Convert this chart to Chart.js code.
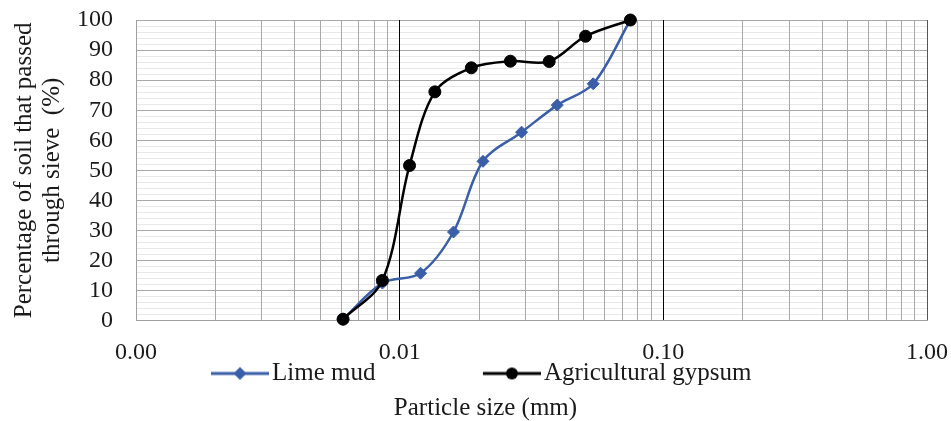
<!DOCTYPE html>
<html>
<head>
<meta charset="utf-8">
<title>Particle size distribution</title>
<script src="https://cdn.jsdelivr.net/npm/chart.js@4"></script>
<style>
  html, body { margin: 0; padding: 0; background: #ffffff; }
  #wrap { width: 951px; height: 421px; }
</style>
</head>
<body>
<div id="wrap"><canvas id="chart" width="951" height="421"></canvas></div>
<script>
// Grain-size curves (particle size in mm, percent passing)
const seriesNames = ['Lime mud', 'Agricultural gypsum'];

const limeMudSize    = [0.0061, 0.0086, 0.0120, 0.0160, 0.0207, 0.0290, 0.0396, 0.0542, 0.075];
const limeMudPassing = [0.5, 12.5, 15.8, 29.5, 53.0, 62.7, 71.7, 78.8, 100];

const gypsumSize     = [0.0061, 0.0086, 0.0109, 0.0136, 0.0187, 0.0263, 0.0369, 0.0507, 0.075];
const gypsumPassing  = [0.5, 13.4, 51.6, 76.1, 84.1, 86.3, 86.2, 94.6, 100];

// Axis labels
const xTickValues = [0.001, 0.01, 0.1, 1];
const xTickLabels = ['0.00', '0.01', '0.10', '1.00'];
const yTickValues = [0, 10, 20, 30, 40, 50, 60, 70, 80, 90, 100];
const yTickLabels = ['0', '10', '20', '30', '40', '50', '60', '70', '80', '90', '100'];
const yTitleLines = ['Percentage of soil that passed', 'through sieve  (%)'];
const xTitle = 'Particle size (mm)';

// Colours
const limeColor = '#3A5FA8';
const gypsumColor = '#000000';
const textColor = '#1a1a1a';
const FONT = "'Liberation Serif', 'Times New Roman', serif";

// Log grid: 1..9 within each decade, plus the closing 1.0 line
const gridMultipliers = [1, 2, 3, 4, 5, 6, 7, 8, 9];
const gridDecades = [0.001, 0.01, 0.1];
const xGridValues = [];
gridDecades.forEach(d => gridMultipliers.forEach(m => xGridValues.push(+(d * m).toPrecision(6))));
xGridValues.push(1);

const near = (a, b) => Math.abs(a - b) <= Math.abs(b) * 1e-6 + 1e-9;

// Legend symbol: short line with the series marker in the middle
const LEGEND_BOX = 156;
function legendSymbol(color, shape) {
  const c = document.createElement('canvas');
  c.width = LEGEND_BOX + 19;
  c.height = 16;
  const g = c.getContext('2d');
  const x2 = c.width, x1 = x2 - 58, cy = 8, cx = (x1 + x2) / 2;
  g.strokeStyle = color;
  g.lineWidth = 3;
  g.beginPath(); g.moveTo(x1, cy); g.lineTo(x2, cy); g.stroke();
  g.fillStyle = color;
  g.beginPath();
  if (shape === 'diamond') {
    g.moveTo(cx, cy - 6.5); g.lineTo(cx + 6.5, cy); g.lineTo(cx, cy + 6.5); g.lineTo(cx - 6.5, cy); g.closePath();
  } else {
    g.arc(cx, cy, 6, 0, Math.PI * 2);
  }
  g.fill();
  return c;
}
const legendSymbols = [legendSymbol(limeColor, 'diamond'), legendSymbol(gypsumColor, 'circle')];

// Horizontal nudges for the legend row and the bottom title
const boxShift = {
  id: 'boxShift',
  afterLayout(chart) {
    const move = (box, dx) => { if (box) { box.left += dx; box.right += dx; } };
    move(chart.legend, -38);
    move(chart.titleBlock, 20);
  }
};

const toPoints = (xs, ys) => xs.map((x, i) => ({ x, y: ys[i] }));

new Chart(document.getElementById('chart'), {
  type: 'line',
  data: {
    datasets: [
      {
        label: seriesNames[0],
        data: toPoints(limeMudSize, limeMudPassing),
        borderColor: limeColor,
        backgroundColor: limeColor,
        borderWidth: 2.5,
        pointStyle: 'rectRot',
        pointRadius: 6,
        pointBorderWidth: 1,
        pointBackgroundColor: limeColor,
        pointBorderColor: limeColor,
        tension: 0.33,
        clip: false,
        order: 1
      },
      {
        label: seriesNames[1],
        data: toPoints(gypsumSize, gypsumPassing),
        borderColor: gypsumColor,
        backgroundColor: gypsumColor,
        borderWidth: 2.5,
        pointStyle: 'circle',
        pointRadius: 6,
        pointBorderWidth: 1,
        pointBackgroundColor: gypsumColor,
        pointBorderColor: gypsumColor,
        tension: 0.33,
        clip: false,
        order: 0
      }
    ]
  },
  options: {
    responsive: false,
    animation: false,
    devicePixelRatio: 1,
    layout: { padding: { left: 4, right: 24, top: 20, bottom: 0 } },
    scales: {
      x: {
        type: 'logarithmic',
        min: 0.001,
        max: 1,
        afterBuildTicks: scale => { scale.ticks = xGridValues.map(v => ({ value: v })); },
        ticks: {
          autoSkip: false,
          maxRotation: 0,
          minRotation: 0,
          padding: 0,
          color: textColor,
          font: { family: FONT, size: 24, lineHeight: 0.7 },
          callback: value => {
            const i = xTickValues.findIndex(v => near(value, v));
            return i >= 0 ? xTickLabels[i] : '';
          }
        },
        grid: {
          z: -1,
          drawTicks: true,
          tickLength: 23.5,
          tickColor: 'rgba(0,0,0,0)',
          lineWidth: 1,
          color: ctx => {
            const v = ctx.tick ? ctx.tick.value : 0;
            if (near(v, 0.01) || near(v, 0.1)) return '#000000';
            if (near(v, 1)) return '#555555';
            return '#a8a8a8';
          }
        },
        border: { color: '#a0a0a0', width: 1 }
      },
      y: {
        min: 0,
        max: 100,
        ticks: {
          stepSize: 2,
          autoSkip: false,
          padding: 3,
          color: textColor,
          font: { family: FONT, size: 24, lineHeight: 1 },
          callback: value => {
            const i = yTickValues.findIndex(v => near(value, v));
            return i >= 0 ? yTickLabels[i] : '';
          }
        },
        grid: {
          z: -2,
          drawTicks: true,
          tickLength: 20,
          tickColor: 'rgba(0,0,0,0)',
          lineWidth: 1,
          color: ctx => {
            const v = ctx.tick ? ctx.tick.value : 0;
            return yTickValues.some(t => near(v, t)) ? '#a8a8a8' : '#e8e8e8';
          }
        },
        border: { color: '#a0a0a0', width: 1 },
        title: {
          display: true,
          text: yTitleLines,
          color: textColor,
          font: { family: FONT, size: 25, lineHeight: 1.12 },
          padding: { top: 6, bottom: 8 }
        }
      }
    },
    plugins: {
      legend: {
        position: 'bottom',
        align: 'center',
        labels: {
          usePointStyle: true,
          pointStyleWidth: LEGEND_BOX,
          padding: 0,
          color: textColor,
          font: { family: FONT, size: 25 },
          generateLabels: chart => chart.data.datasets.map((ds, i) => ({
            text: ds.label,
            datasetIndex: i,
            pointStyle: legendSymbols[i],
            fillStyle: ds.borderColor,
            strokeStyle: ds.borderColor,
            lineWidth: 0,
            fontColor: textColor,
            hidden: false
          }))
        }
      },
      title: {
        display: true,
        position: 'bottom',
        text: xTitle,
        color: textColor,
        font: { family: FONT, size: 25, weight: 'normal', lineHeight: 1 },
        padding: { top: 0, bottom: 0 }
      },
      tooltip: { enabled: false }
    }
  },
  plugins: [boxShift]
});
</script>
</body>
</html>
